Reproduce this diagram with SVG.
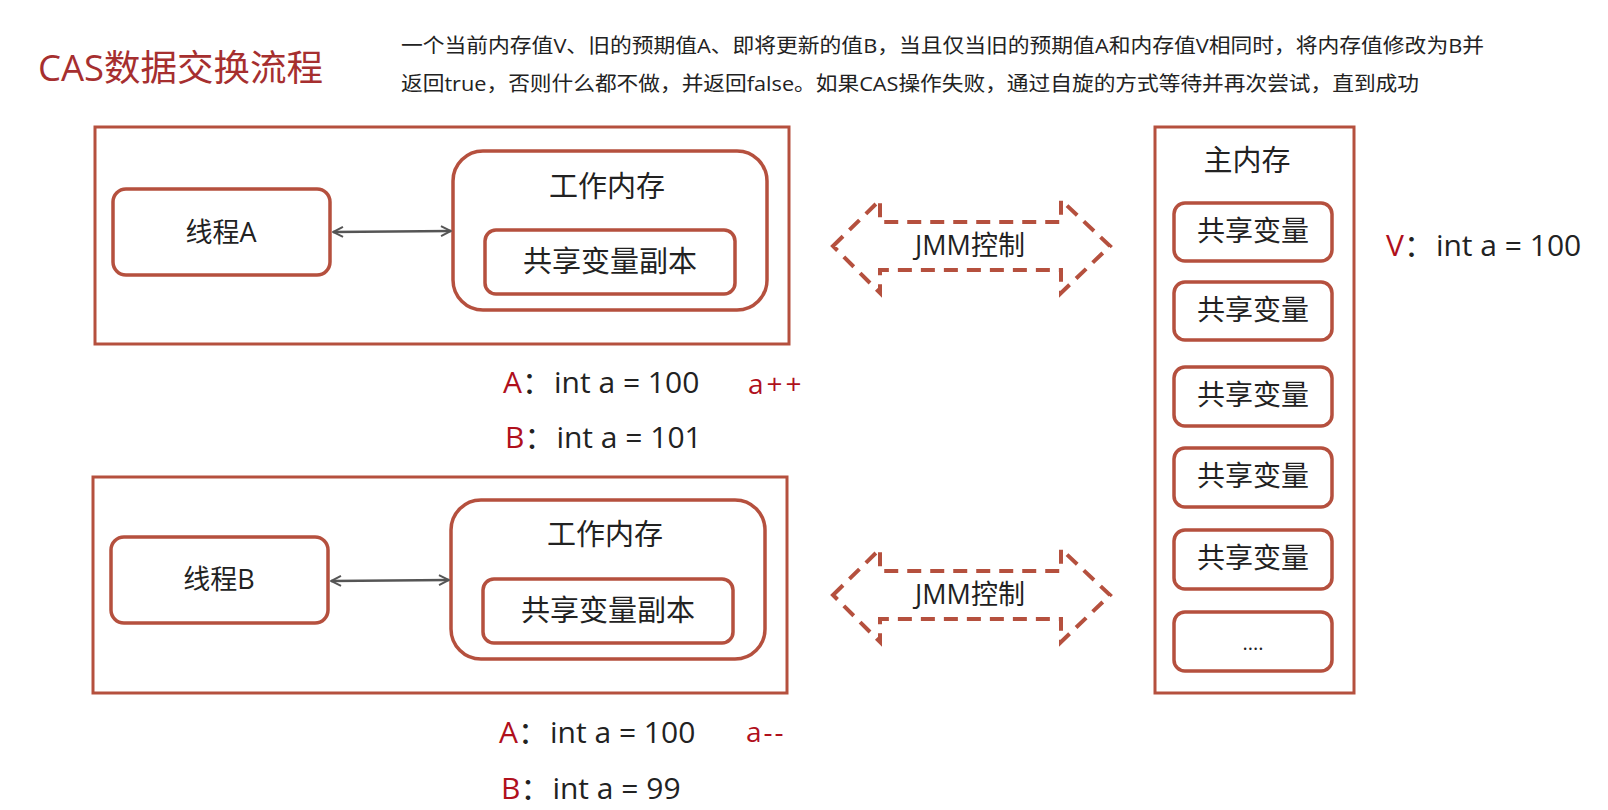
<svg xmlns="http://www.w3.org/2000/svg" width="1608" height="810" viewBox="0 0 1608 810">
<style>
.box{fill:none;stroke:#b5503e;stroke-width:3.5}
.frame{fill:#fff;stroke:#b5503e;stroke-width:3}
.t{font-family:"Open Sans","Noto Sans CJK SC",sans-serif;fill:#222;text-anchor:middle;dominant-baseline:central}
.l{font-family:"Open Sans","Noto Sans CJK SC",sans-serif;fill:#222;dominant-baseline:central}
.red{fill:#b0101c}
.jmm{fill:none;stroke:#b5503e;stroke-width:4;stroke-dasharray:14 9}
.conn{stroke:#555;stroke-width:2.5;fill:none;marker-start:url(#ah);marker-end:url(#ah)}
</style>
<defs>
<marker id="ah" viewBox="0 0 12 12" refX="11" refY="6" markerWidth="12" markerHeight="12" markerUnits="userSpaceOnUse" orient="auto-start-reverse">
<path d="M1,1 L11,6 L1,11" fill="none" stroke="#555" stroke-width="2"/>
</marker>
</defs>
<rect width="1608" height="810" fill="#fff"/>
<g id="title">
<text class="l" x="38" y="67" font-size="36.5" style="fill:#a62f2f">CAS数据交换流程</text>
</g>
<g id="desc">
<text class="l" x="401" y="45" font-size="20" textLength="1083" lengthAdjust="spacingAndGlyphs">一个当前内存值V、旧的预期值A、即将更新的值B，当且仅当旧的预期值A和内存值V相同时，将内存值修改为B并</text>
<text class="l" x="401" y="83" font-size="20" textLength="1018" lengthAdjust="spacingAndGlyphs">返回true，否则什么都不做，并返回false。如果CAS操作失败，通过自旋的方式等待并再次尝试，直到成功</text>
</g>
<g id="threadA-area">
<rect class="frame" x="95" y="127" width="694" height="217"/>
</g>
<g id="threadA">
<rect class="box" x="113" y="189" width="217" height="86" rx="13"/>
<text class="t" x="221" y="231" font-size="27">线程A</text>
</g>
<g id="workmemA">
<rect class="box" x="453" y="151" width="314" height="159" rx="30"/>
<text class="t" x="607" y="185" font-size="29">工作内存</text>
</g>
<g id="copyA">
<rect class="box" x="485" y="230" width="250" height="64" rx="11"/>
<text class="t" x="610" y="260" font-size="29">共享变量副本</text>
</g>
<g id="threadB-area">
<rect class="frame" x="93" y="477" width="694" height="216"/>
</g>
<g id="threadB">
<rect class="box" x="111" y="537" width="217" height="86" rx="13"/>
<text class="t" x="219" y="578" font-size="27">线程B</text>
</g>
<g id="workmemB">
<rect class="box" x="451" y="500" width="314" height="159" rx="30"/>
<text class="t" x="605" y="533" font-size="29">工作内存</text>
</g>
<g id="copyB">
<rect class="box" x="483" y="579" width="250" height="64" rx="11"/>
<text class="t" x="608" y="609" font-size="29">共享变量副本</text>
</g>
<g id="mainmem">
<rect class="frame" x="1155" y="127" width="199" height="566"/>
<text class="t" x="1247" y="159" font-size="29">主内存</text>
</g>
<g id="var1"><rect class="box" x="1174" y="203" width="158" height="58" rx="11"/><text class="t" x="1253" y="230" font-size="28">共享变量</text></g>
<g id="var2"><rect class="box" x="1174" y="282" width="158" height="58" rx="11"/><text class="t" x="1253" y="309" font-size="28">共享变量</text></g>
<g id="var3"><rect class="box" x="1174" y="367" width="158" height="59" rx="11"/><text class="t" x="1253" y="394" font-size="28">共享变量</text></g>
<g id="var4"><rect class="box" x="1174" y="448" width="158" height="59" rx="11"/><text class="t" x="1253" y="475" font-size="28">共享变量</text></g>
<g id="var5"><rect class="box" x="1174" y="530" width="158" height="59" rx="11"/><text class="t" x="1253" y="557" font-size="28">共享变量</text></g>
<g id="var6"><rect class="box" x="1174" y="612" width="158" height="59" rx="11"/><text class="t" x="1253" y="642" font-size="20">....</text></g>
<g id="jmm1">
<path class="jmm" d="M833,246 L880,200 L880,222 L1061,222 L1061,200 L1110,246 L1061,293 L1061,270 L880,270 L880,293 Z"/>
<text class="t" x="970" y="244" font-size="27">JMM控制</text>
</g>
<g id="jmm2">
<path class="jmm" d="M833,595 L880,549 L880,571 L1061,571 L1061,549 L1110,595 L1061,642 L1061,619 L880,619 L880,642 Z"/>
<text class="t" x="970" y="593" font-size="27">JMM控制</text>
</g>
<g id="connectors">
<line class="conn" x1="333" y1="232" x2="451" y2="231"/>
<line class="conn" x1="331" y1="581" x2="449" y2="580"/>
</g>
<g id="values">
<text class="l" x="1386" y="244" font-size="30"><tspan class="red">V</tspan>：<tspan dx="2">int a = 100</tspan></text>
<text class="l" x="503" y="381" font-size="30"><tspan class="red">A</tspan>：<tspan dx="2">int a = 100</tspan></text>
<text class="l red" x="748" y="383" font-size="28" letter-spacing="3">a++</text>
<text class="l" x="505" y="436" font-size="30"><tspan class="red">B</tspan>：<tspan dx="2">int a = 101</tspan></text>
<text class="l" x="499" y="731" font-size="30"><tspan class="red">A</tspan>：<tspan dx="2">int a = 100</tspan></text>
<text class="l red" x="746" y="731" font-size="28" letter-spacing="2">a--</text>
<text class="l" x="501" y="787" font-size="30"><tspan class="red">B</tspan>：<tspan dx="2">int a = 99</tspan></text>
</g>
</svg>
